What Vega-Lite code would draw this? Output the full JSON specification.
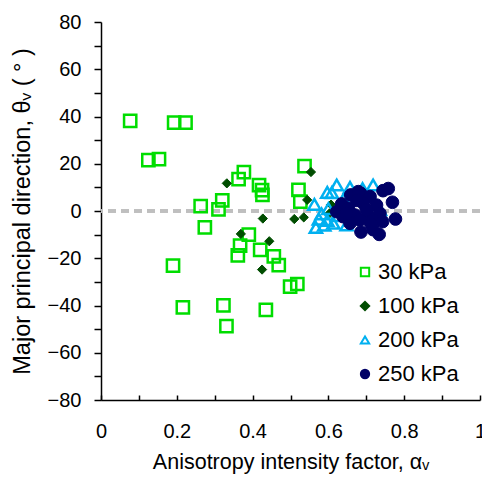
{
  "$schema": "https://vega.github.io/schema/vega-lite/v6.json",
  "width": 379,
  "height": 378,
  "autosize": {"type": "none"},
  "padding": {"left": 101, "top": 22, "right": 2, "bottom": 78},
  "background": "white",
  "config": {
    "view": {"stroke": null},
    "font": "Liberation Sans",
    "axis": {"grid": false, "domainColor": "#000", "domainWidth": 1.5, "tickColor": "#000", "tickWidth": 1.5, "labelFont": "Liberation Sans", "titleFont": "Liberation Sans", "labelColor": "#000", "titleColor": "#000", "titleFontWeight": "normal", "labelFontSize": 20, "titleFontSize": 21.5},
    "legend": {
      "labelFontSize": 22, "labelFont": "Liberation Sans", "labelColor": "#000",
      "symbolSize": 70, "symbolStrokeWidth": 2, "rowPadding": 12, "labelOffset": 2, "padding": 0,
      "orient": "none", "legendX": 253, "legendY": 239, "title": null
    }
  },
  "data": {
    "values": [
      {"a": 0.077, "t": 38.2, "p": "30 kPa"},
      {"a": 0.193, "t": 37.4, "p": "30 kPa"},
      {"a": 0.223, "t": 37.4, "p": "30 kPa"},
      {"a": 0.125, "t": 21.5, "p": "30 kPa"},
      {"a": 0.153, "t": 22.0, "p": "30 kPa"},
      {"a": 0.377, "t": 16.5, "p": "30 kPa"},
      {"a": 0.363, "t": 13.5, "p": "30 kPa"},
      {"a": 0.417, "t": 11.0, "p": "30 kPa"},
      {"a": 0.425, "t": 8.8, "p": "30 kPa"},
      {"a": 0.426, "t": 6.8, "p": "30 kPa"},
      {"a": 0.320, "t": 4.5, "p": "30 kPa"},
      {"a": 0.263, "t": 2.1, "p": "30 kPa"},
      {"a": 0.310, "t": 0.7, "p": "30 kPa"},
      {"a": 0.274, "t": -6.9, "p": "30 kPa"},
      {"a": 0.390, "t": -10.0, "p": "30 kPa"},
      {"a": 0.367, "t": -14.7, "p": "30 kPa"},
      {"a": 0.361, "t": -18.8, "p": "30 kPa"},
      {"a": 0.420, "t": -16.5, "p": "30 kPa"},
      {"a": 0.456, "t": -19.2, "p": "30 kPa"},
      {"a": 0.469, "t": -22.9, "p": "30 kPa"},
      {"a": 0.190, "t": -23.1, "p": "30 kPa"},
      {"a": 0.216, "t": -40.8, "p": "30 kPa"},
      {"a": 0.323, "t": -39.9, "p": "30 kPa"},
      {"a": 0.331, "t": -48.7, "p": "30 kPa"},
      {"a": 0.435, "t": -41.8, "p": "30 kPa"},
      {"a": 0.499, "t": -32.0, "p": "30 kPa"},
      {"a": 0.518, "t": -30.9, "p": "30 kPa"},
      {"a": 0.537, "t": 19.0, "p": "30 kPa"},
      {"a": 0.521, "t": 8.9, "p": "30 kPa"},
      {"a": 0.526, "t": 4.0, "p": "30 kPa"},
      {"a": 0.332, "t": 11.7, "p": "100 kPa"},
      {"a": 0.369, "t": -9.7, "p": "100 kPa"},
      {"a": 0.427, "t": -3.2, "p": "100 kPa"},
      {"a": 0.444, "t": -12.8, "p": "100 kPa"},
      {"a": 0.425, "t": -24.8, "p": "100 kPa"},
      {"a": 0.554, "t": 16.5, "p": "100 kPa"},
      {"a": 0.544, "t": 4.7, "p": "100 kPa"},
      {"a": 0.607, "t": 2.7, "p": "100 kPa"},
      {"a": 0.510, "t": -3.4, "p": "100 kPa"},
      {"a": 0.535, "t": -2.7, "p": "100 kPa"},
      {"a": 0.603, "t": -1.0, "p": "100 kPa"},
      {"a": 0.597, "t": 7.9, "p": "200 kPa"},
      {"a": 0.609, "t": 7.8, "p": "200 kPa"},
      {"a": 0.622, "t": 11.0, "p": "200 kPa"},
      {"a": 0.657, "t": 10.0, "p": "200 kPa"},
      {"a": 0.718, "t": 11.0, "p": "200 kPa"},
      {"a": 0.563, "t": 2.8, "p": "200 kPa"},
      {"a": 0.582, "t": -1.2, "p": "200 kPa"},
      {"a": 0.567, "t": -7.0, "p": "200 kPa"},
      {"a": 0.589, "t": -6.0, "p": "200 kPa"},
      {"a": 0.597, "t": -4.0, "p": "200 kPa"},
      {"a": 0.622, "t": -2.0, "p": "200 kPa"},
      {"a": 0.613, "t": -5.2, "p": "200 kPa"},
      {"a": 0.648, "t": -5.9, "p": "200 kPa"},
      {"a": 0.736, "t": 0.5, "p": "200 kPa"},
      {"a": 0.575, "t": -3.5, "p": "200 kPa"},
      {"a": 0.600, "t": 1.0, "p": "200 kPa"},
      {"a": 0.640, "t": 5.0, "p": "200 kPa"},
      {"a": 0.690, "t": 9.5, "p": "200 kPa"},
      {"a": 0.744, "t": 8.6, "p": "250 kPa"},
      {"a": 0.758, "t": 9.5, "p": "250 kPa"},
      {"a": 0.769, "t": 3.7, "p": "250 kPa"},
      {"a": 0.777, "t": -3.4, "p": "250 kPa"},
      {"a": 0.659, "t": 6.8, "p": "250 kPa"},
      {"a": 0.685, "t": 7.5, "p": "250 kPa"},
      {"a": 0.710, "t": 6.1, "p": "250 kPa"},
      {"a": 0.679, "t": 8.2, "p": "250 kPa"},
      {"a": 0.635, "t": 3.0, "p": "250 kPa"},
      {"a": 0.653, "t": 1.1, "p": "250 kPa"},
      {"a": 0.692, "t": 3.3, "p": "250 kPa"},
      {"a": 0.727, "t": 2.5, "p": "250 kPa"},
      {"a": 0.622, "t": -0.3, "p": "250 kPa"},
      {"a": 0.670, "t": -1.7, "p": "250 kPa"},
      {"a": 0.705, "t": -1.7, "p": "250 kPa"},
      {"a": 0.736, "t": -1.0, "p": "250 kPa"},
      {"a": 0.639, "t": -2.4, "p": "250 kPa"},
      {"a": 0.683, "t": -3.8, "p": "250 kPa"},
      {"a": 0.718, "t": -3.8, "p": "250 kPa"},
      {"a": 0.743, "t": -4.5, "p": "250 kPa"},
      {"a": 0.686, "t": -8.9, "p": "250 kPa"},
      {"a": 0.718, "t": -7.9, "p": "250 kPa"},
      {"a": 0.734, "t": -9.9, "p": "250 kPa"},
      {"a": 0.657, "t": -5.2, "p": "250 kPa"},
      {"a": 0.700, "t": 0.5, "p": "250 kPa"},
      {"a": 0.675, "t": 4.5, "p": "250 kPa"},
      {"a": 0.648, "t": -1.0, "p": "250 kPa"},
      {"a": 0.712, "t": -5.5, "p": "250 kPa"}
    ]
  },
  "encoding": {
    "x": {
      "field": "a", "type": "quantitative",
      "scale": {"domain": [0, 1], "nice": false},
      "axis": {
        "title": "Anisotropy intensity factor, αᵥ",
        "values": [0, 0.1, 0.2, 0.3, 0.4, 0.5, 0.6, 0.7, 0.8, 0.9, 1],
        "format": "~g",
        "labelExpr": "(round(datum.value*10) % 2 == 0) ? datum.label : ''",
        "tickSize": -5,
        "labelPadding": 26,
        "titlePadding": 10,
        "labelFlush": false
      }
    },
    "y": {
      "field": "t", "type": "quantitative",
      "scale": {"domain": [-80, 80], "nice": false},
      "axis": {
        "title": "Major principal direction, θᵥ ( ° )",
        "titleFontSize": 23.5,
        "values": [-80, -70, -60, -50, -40, -30, -20, -10, 0, 10, 20, 30, 40, 50, 60, 70, 80],
        "labelExpr": "(datum.value % 20 == 0) ? datum.label : ''",
        "tickSize": 7,
        "labelPadding": 13,
        "titlePadding": 13,
        "labelFlush": false
      }
    },
    "shape": {
      "field": "p", "type": "nominal",
      "scale": {"domain": ["30 kPa", "100 kPa", "200 kPa", "250 kPa"], "range": ["square", "diamond", "triangle-up", "circle"]}
    },
    "color": {
      "field": "p", "type": "nominal",
      "scale": {"domain": ["30 kPa", "100 kPa", "200 kPa", "250 kPa"], "range": ["#00dd00", "#004d00", "#00b0f0", "#000066"]}
    },
    "fill": {
      "field": "p", "type": "nominal",
      "scale": {"domain": ["30 kPa", "100 kPa", "200 kPa", "250 kPa"], "range": ["transparent", "#004d00", "transparent", "#000066"]}
    }
  },
  "layer": [
    {
      "mark": {"type": "rule", "color": "#bfbfbf", "strokeWidth": 2.5, "strokeDash": [8, 5]},
      "encoding": {"y": {"datum": 0, "type": "quantitative"}, "x": null, "shape": null, "color": null, "fill": null}
    },
    {
      "transform": [{"filter": "datum.p == '30 kPa'"}],
      "mark": {"type": "point", "filled": false, "opacity": 1, "size": 150, "strokeWidth": 2.5}
    },
    {
      "transform": [{"filter": "datum.p == '100 kPa'"}],
      "mark": {"type": "point", "filled": false, "opacity": 1, "size": 85, "strokeWidth": 1}
    },
    {
      "transform": [{"filter": "datum.p == '200 kPa'"}],
      "mark": {"type": "point", "filled": false, "opacity": 1, "size": 150, "strokeWidth": 2.5}
    },
    {
      "transform": [{"filter": "datum.p == '250 kPa'"}],
      "mark": {"type": "point", "filled": false, "opacity": 1, "size": 160, "strokeWidth": 1}
    }
  ]
}
